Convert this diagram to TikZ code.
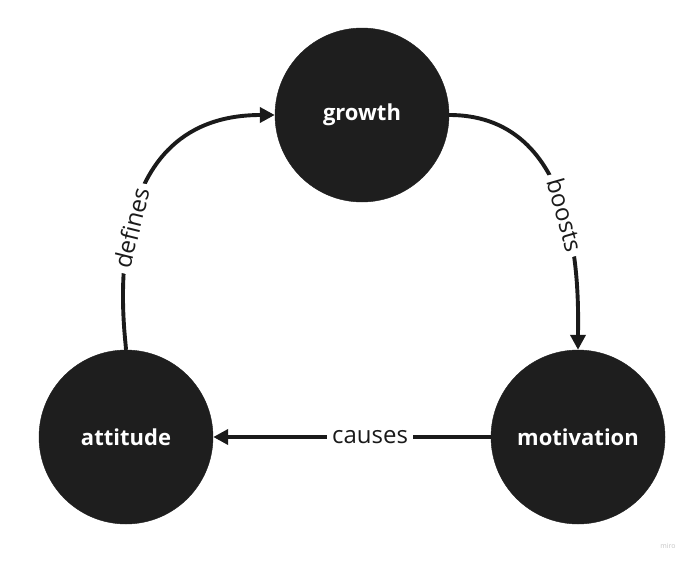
\documentclass[tikz,border=0pt]{standalone}
\usepackage{fontspec}
\setmainfont{Open Sans}
\usepackage{xcolor}
\usepackage{tikz}
\usetikzlibrary{arrows.meta, positioning}
\definecolor{mrDark}{HTML}{1E1E1E}
\definecolor{mrLine}{HTML}{1A1A1A}
\definecolor{mrMark}{HTML}{C4C4C4}

\begin{document}
\begin{tikzpicture}[
  x=1pt, y=-1pt,
  %% --- Node styles ---
  bubble/.style={
    circle, minimum size=174pt, inner sep=0pt,
    fill=mrDark, draw=mrDark,
    text=white, font=\fontsize{22}{26}\selectfont\bfseries
  },
  %% --- Arrow style ---
  link/.style={-{Triangle[length=15pt, width=15pt]}, line width=3.9pt, draw=mrLine},
  linklabel/.style={fill=white, inner xsep=5pt, inner ysep=2pt,
    font=\fontsize{24}{28}\selectfont, text=mrLine}
]
\useasboundingbox (0,0) rectangle (700,565);

%% =========================================================
%% NODES
%% =========================================================
\node (growth)     [bubble] at (362,115) {growth};
\node (attitude)   [bubble] at (126,437) {attitude};
\node (motivation) [bubble] at (578,437) {motivation};

%% watermark
\node (mark) [font=\fontsize{7}{8}\selectfont, text=mrMark] at (668,546) {miro};

%% =========================================================
%% ARROWS
%% =========================================================
\draw[link] (attitude.north)
    .. controls +(0,-12) and +(-184,0) ..
    node[linklabel, pos=0.5, sloped]{defines} (growth.west);

\draw[link] (growth.east)
    .. controls +(137,0) and +(0,-47) ..
    node[linklabel, pos=0.5, sloped]{boosts} (motivation.north);

\draw[link] (motivation.west)
    -- node[linklabel, pos=0.435]{causes} (attitude.east);

\end{tikzpicture}
\end{document}
